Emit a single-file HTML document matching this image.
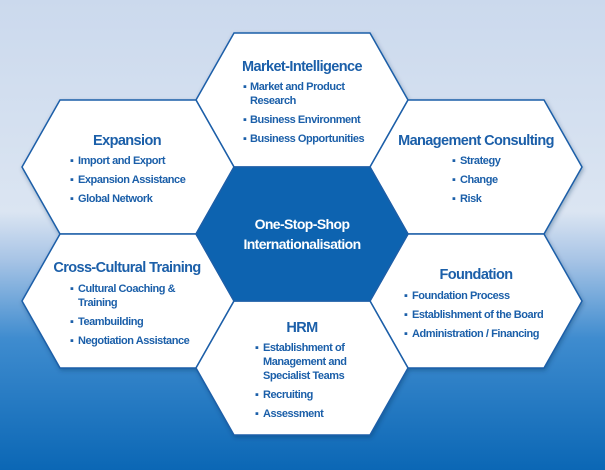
<!DOCTYPE html>
<html><head><meta charset="utf-8"><style>
html,body{margin:0;padding:0;width:605px;height:470px;overflow:hidden}
svg{display:block}
text{font-family:"Liberation Sans",Arial,sans-serif;font-weight:bold;fill:#1b5fa9;letter-spacing:-0.45px}
.t{font-size:14.5px;letter-spacing:-0.6px}
.i{font-size:11px}
.w{fill:#fff}
</style></head><body>
<svg width="605" height="470" viewBox="0 0 605 470">
<defs>
<linearGradient id="bg" x1="0" y1="0" x2="0" y2="1">
<stop offset="0" stop-color="#cbd9ed"/>
<stop offset="0.45" stop-color="#dbe5f2"/>
<stop offset="0.55" stop-color="#a9c5e6"/>
<stop offset="0.72" stop-color="#3f8ccf"/>
<stop offset="1" stop-color="#0b67b5"/>
</linearGradient>
<filter id="sh" x="-10%" y="-10%" width="120%" height="120%"><feDropShadow dx="1" dy="2" stdDeviation="2" flood-color="#003060" flood-opacity="0.35"/></filter>
</defs>
<rect width="605" height="470" fill="url(#bg)"/>
<g stroke="#1d5ea8" stroke-width="1.5" fill="#fff" filter="url(#sh)">
<polygon points="234,33 370,33 408,100 370,167 234,167 196,100"/>
<polygon points="60,100 196,100 234,167 196,234 60,234 22,167"/>
<polygon points="408,100 544,100 582,167 544,234 408,234 370,167"/>
<polygon points="60,234 196,234 234,301 196,368 60,368 22,301"/>
<polygon points="408,234 544,234 582,301 544,368 408,368 370,301"/>
<polygon points="234,301 370,301 408,368 370,435 234,435 196,368"/>
<polygon points="234,167 370,167 408,234 370,301 234,301 196,234" fill="#0a64b0"/>
</g>
<text class="t" x="302" y="71" text-anchor="middle">Market-Intelligence</text>
<text class="i" x="243" y="90">▪</text><text class="i" x="250" y="90">Market and Product</text>
<text class="i" x="250" y="104">Research</text>
<text class="i" x="243" y="123">▪</text><text class="i" x="250" y="123">Business Environment</text>
<text class="i" x="243" y="142">▪</text><text class="i" x="250" y="142">Business Opportunities</text>

<text class="t" x="127" y="145" text-anchor="middle">Expansion</text>
<text class="i" x="70" y="164">▪</text><text class="i" x="78" y="164">Import and Export</text>
<text class="i" x="70" y="183">▪</text><text class="i" x="78" y="183">Expansion Assistance</text>
<text class="i" x="70" y="202">▪</text><text class="i" x="78" y="202">Global Network</text>

<text class="t" x="476" y="145" text-anchor="middle">Management Consulting</text>
<text class="i" x="452" y="164">▪</text><text class="i" x="460" y="164">Strategy</text>
<text class="i" x="452" y="183">▪</text><text class="i" x="460" y="183">Change</text>
<text class="i" x="452" y="202">▪</text><text class="i" x="460" y="202">Risk</text>

<text class="t w" x="302" y="229" text-anchor="middle" style="font-size:14px">One-Stop-Shop</text>
<text class="t w" x="302" y="249" text-anchor="middle" style="font-size:14px">Internationalisation</text>

<text class="t" x="127" y="272" text-anchor="middle">Cross-Cultural Training</text>
<text class="i" x="70" y="292">▪</text><text class="i" x="78" y="292">Cultural Coaching &amp;</text>
<text class="i" x="78" y="306">Training</text>
<text class="i" x="70" y="325">▪</text><text class="i" x="78" y="325">Teambuilding</text>
<text class="i" x="70" y="344">▪</text><text class="i" x="78" y="344">Negotiation Assistance</text>

<text class="t" x="476" y="279" text-anchor="middle">Foundation</text>
<text class="i" x="404" y="299">▪</text><text class="i" x="412" y="299">Foundation Process</text>
<text class="i" x="404" y="318">▪</text><text class="i" x="412" y="318">Establishment of the Board</text>
<text class="i" x="404" y="337">▪</text><text class="i" x="412" y="337">Administration / Financing</text>

<text class="t" x="302" y="332" text-anchor="middle">HRM</text>
<text class="i" x="255" y="351">▪</text><text class="i" x="263" y="351">Establishment of</text>
<text class="i" x="263" y="365">Management and</text>
<text class="i" x="263" y="379">Specialist Teams</text>
<text class="i" x="255" y="398">▪</text><text class="i" x="263" y="398">Recruiting</text>
<text class="i" x="255" y="417">▪</text><text class="i" x="263" y="417">Assessment</text>
</svg>
</body></html>
